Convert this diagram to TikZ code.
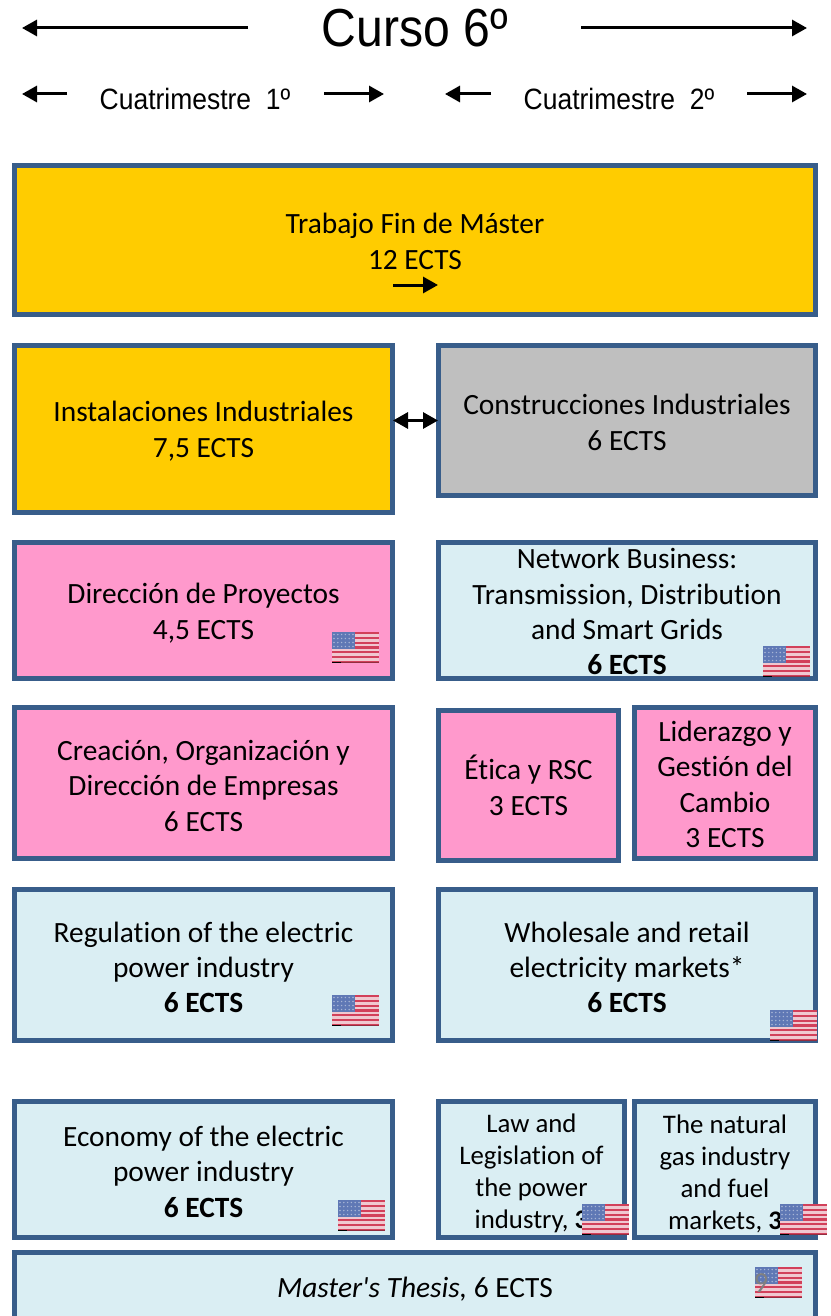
\documentclass[tikz,border=0pt]{standalone}
\usepackage{fontspec}
\setmainfont[Ligatures={NoCommon},ItalicFont={Carlito Italic},BoldFont={Carlito Bold}]{Carlito}
\newfontfamily\headfont[FakeStretch=0.9]{Liberation Sans}
\usetikzlibrary{arrows.meta}
\definecolor{gold}{HTML}{FFCC00}
\definecolor{pinkbox}{HTML}{FF99CC}
\definecolor{paleblue}{HTML}{DAEEF3}
\definecolor{greybox}{HTML}{BFBFBF}
\definecolor{edge}{HTML}{385D8A}
\definecolor{flagred}{HTML}{D2405A}
\definecolor{flagpale}{HTML}{F0C8D0}
\definecolor{flagblue}{HTML}{5F78B5}
\newcommand{\usflag}[2]{%
  \begin{scope}[shift={(#1,#2)}]
    \fill[flagpale] (0,0) rectangle (47,31);
    \foreach \s in {0,...,6} {\fill[flagred] (0,{\s*4.77}) rectangle (47,{\s*4.77+2.4});}
    \fill[flagblue] (0,0) rectangle (23,17);
    \foreach \r in {0,1,2,3} \foreach \c in {0,...,5} {\fill[white!45!flagblue] ({2+\c*3.8},{2.5+\r*4}) circle (0.8);}
    \fill[black] (0,29.5) rectangle (9,31);
    \fill[flagred!70!black] (9,29.5) rectangle (47,31);
  \end{scope}}
\newcommand{\lift}[1]{\rule{0pt}{#1}}
\tikzset{
  x=1pt,y=-1pt,
  box/.style={draw=edge,line width=5pt,inner sep=0pt,align=center,text=black,font=\fontsize{29.4}{35.4}\selectfont},
  narrow/.style={font=\fontsize{26.8}{32}\selectfont},
  gold box/.style={box,fill=gold},
  pink box/.style={box,fill=pinkbox},
  blue box/.style={box,fill=paleblue},
  grey box/.style={box,fill=greybox},
  arrow/.style={line width=3pt,-{Triangle[length=15pt,width=16pt]}},
  twoway/.style={line width=3pt,shorten >=-2pt,shorten <=-2pt,{Triangle[length=15pt,width=16pt]}-{Triangle[length=15pt,width=16pt]}},
  head/.style={inner sep=0pt,text=black},
}
\begin{document}
\begin{tikzpicture}
\useasboundingbox (0,0) rectangle (830,1316);
% headings
\node[head,font=\headfont\fontsize{53.5}{53.5}\selectfont] (curso) at (415,28) {Curso 6º};
\node[head,font=\headfont\fontsize{29.4}{29.4}\selectfont] (cuat1) at (195,99) {Cuatrimestre\ \ 1º};
\node[head,font=\headfont\fontsize{29.4}{29.4}\selectfont] (cuat2) at (619,99) {Cuatrimestre\ \ 2º};
\coordinate (a1s) at (248,28); \coordinate (a1e) at (22,28);
\coordinate (a2s) at (581,28); \coordinate (a2e) at (807,28);
\coordinate (b1s) at (67,94);  \coordinate (b1e) at (22,94);
\coordinate (b2s) at (324,94); \coordinate (b2e) at (384,94);
\coordinate (b3s) at (491,94); \coordinate (b3e) at (445,94);
\coordinate (b4s) at (747,94); \coordinate (b4e) at (807,94);
\foreach \n in {a1,a2,b1,b2,b3,b4} {\draw[arrow] (\n s) -- (\n e);}
% boxes
\node[gold box,minimum width=801pt,minimum height=149pt] (tfm) at (415,240) {\lift{23pt}Trabajo Fin de Máster\\12 ECTS};
\node[gold box,minimum width=378pt,minimum height=167pt] (inst) at (203.5,429) {\lift{25pt}Instalaciones Industriales\\7,5 ECTS};
\node[grey box,minimum width=377pt,minimum height=150pt] (cons) at (627,420.5) {\lift{24pt}Construcciones Industriales\\6 ECTS};
\node[pink box,minimum width=378pt,minimum height=136pt] (dir) at (203.5,610.5) {\lift{26pt}Dirección de Proyectos\\4,5 ECTS};
\node[blue box,minimum width=377pt,minimum height=136pt] (net) at (627,610.5) {\lift{23pt}Network Business:\\Transmission, Distribution\\and Smart Grids\\\textbf{6 ECTS}};
\node[pink box,minimum width=378pt,minimum height=151pt] (crea) at (203.5,783) {\lift{26pt}Creación, Organización y\\Dirección de Empresas\\6 ECTS};
\node[pink box,minimum width=180pt,minimum height=150pt] (etica) at (528.5,785.5) {Ética y RSC\\3 ECTS};
\node[pink box,minimum width=181pt,minimum height=151pt] (lid) at (725,783) {\lift{23pt}Liderazgo y\\Gestión del\\Cambio\\3 ECTS};
\node[blue box,minimum width=378pt,minimum height=151pt] (reg) at (203.5,965) {\lift{25pt}Regulation of the electric\\power industry\\\textbf{6 ECTS}};
\node[blue box,minimum width=377pt,minimum height=151pt] (whole) at (627,965) {\lift{25pt}Wholesale and retail\\electricity markets*\\\textbf{6 ECTS}};
\node[blue box,minimum width=378pt,minimum height=136pt] (eco) at (203.5,1169.5) {\lift{25pt}Economy of the electric\\power industry\\\textbf{6 ECTS}};
\node[blue box,narrow,minimum width=186pt,minimum height=136pt] (law) at (531.5,1169.5) {\lift{27pt}Law and\\Legislation of\\the power\\industry, \textbf{3}};
\node[blue box,narrow,minimum width=181pt,minimum height=136pt] (gas) at (725,1169.5) {\lift{27pt}The natural\\gas industry\\and fuel\\markets, \textbf{3}};
\node[blue box,minimum width=801pt,minimum height=67pt] (thesis) at (415,1286) {\lift{27pt}\textit{Master\textquotesingle s Thesis,} 6 ECTS};
% connectors
\draw[twoway] (inst.east |- cons.west) -- (cons.west);
\coordinate (c1) at (393,285); \coordinate (c2) at (438,285);
\draw[arrow] (c1) -- (c2);
% flags
\usflag{332}{632}
\usflag{763}{646}
\usflag{332}{995}
\usflag{770}{1010}
\usflag{338}{1200}
\usflag{582}{1204}
\usflag{780}{1204}
\usflag{755}{1267}
\node[inner sep=0pt,text=gray,font=\fontsize{29}{29}\selectfont] (pageno) at (761,1283) {9};
\end{tikzpicture}
\end{document}
